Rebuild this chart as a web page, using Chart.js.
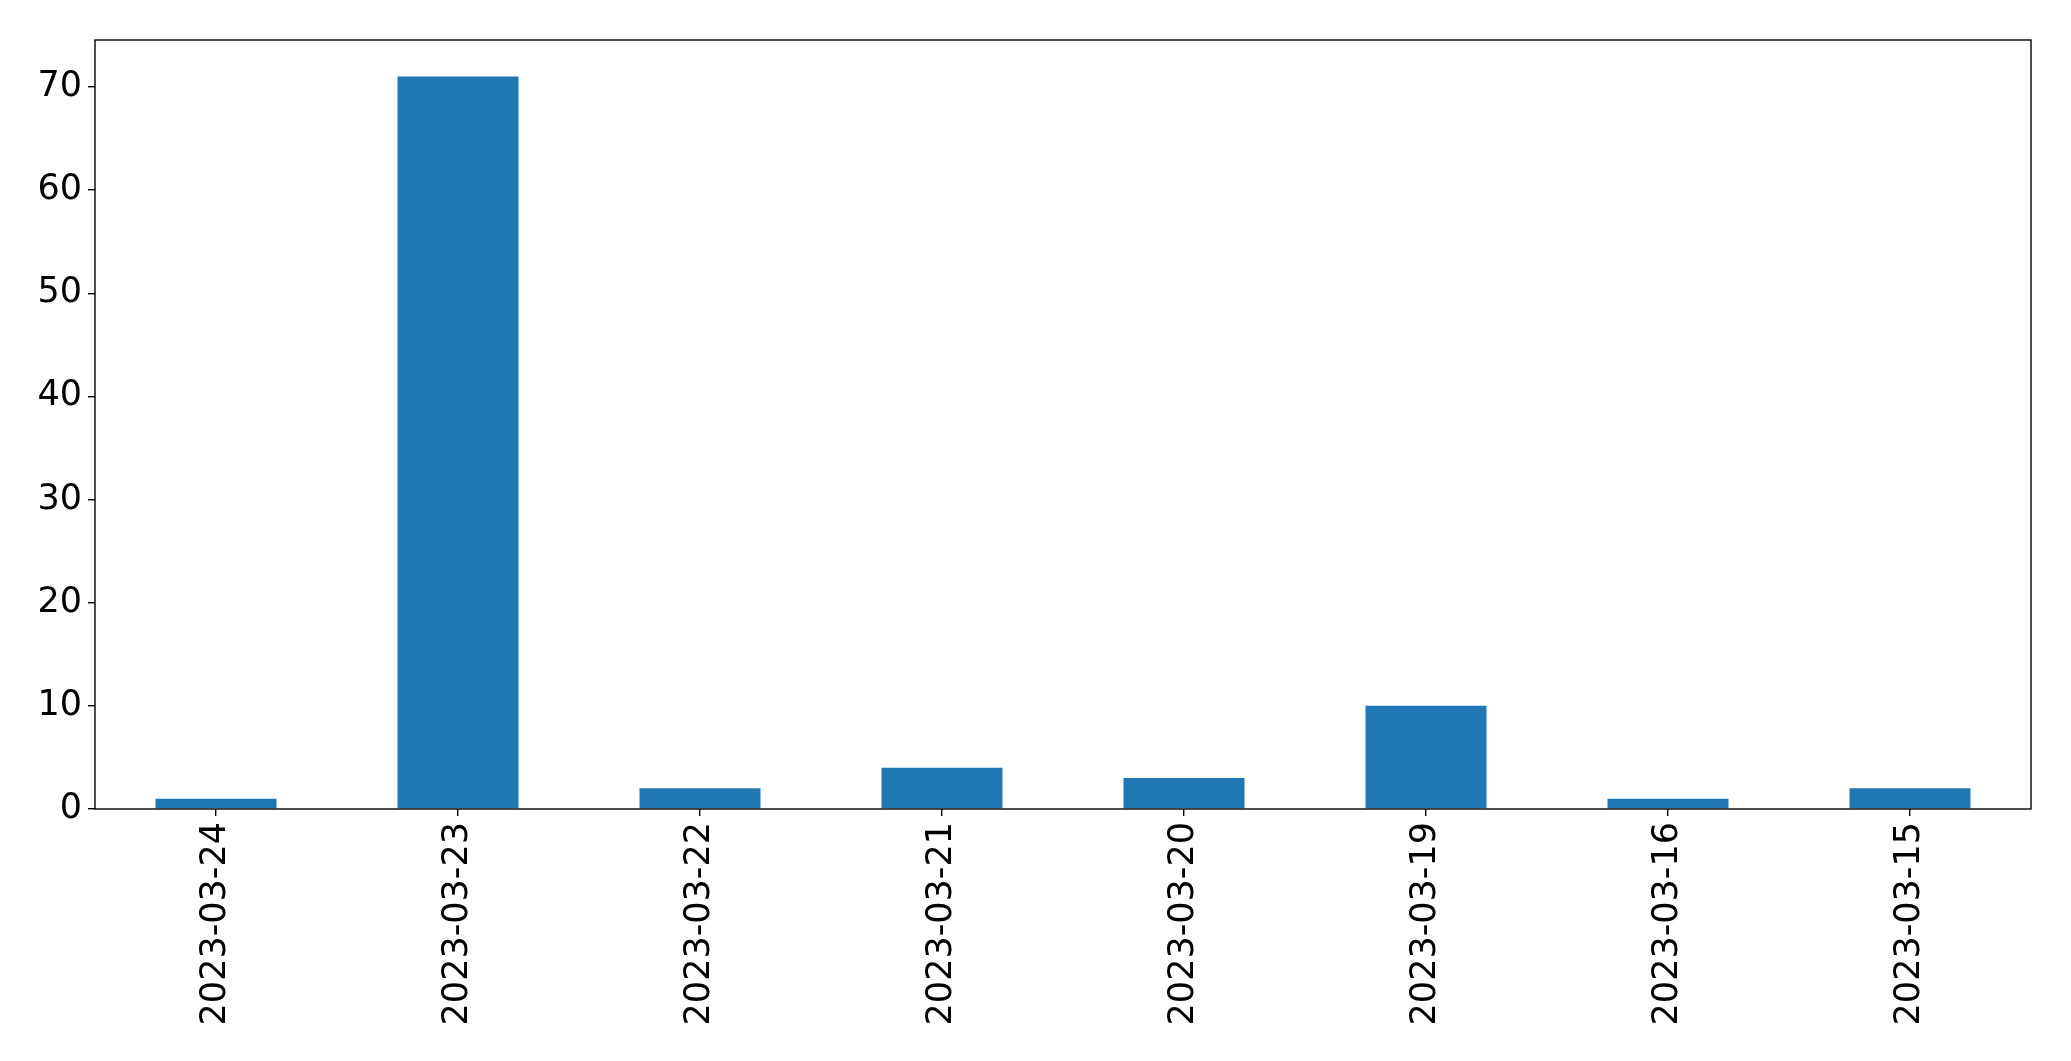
<!DOCTYPE html>
<html>
<head>
<meta charset="utf-8">
<script src="https://cdn.jsdelivr.net/npm/chart.js@4/dist/chart.umd.min.js"></script>
<style>
  html, body { margin: 0; padding: 0; background: #fff; }
  #wrap { width: 2071px; height: 1061px; }
</style>
</head>
<body>
<div id="wrap"><canvas id="barChart" width="2071" height="1061"></canvas></div>
<script>
const dates = ['2023-03-24', '2023-03-23', '2023-03-22', '2023-03-21', '2023-03-20', '2023-03-19', '2023-03-16', '2023-03-15'];
const counts = [1, 71, 2, 4, 3, 10, 1, 2];
const yMax = 74.55;
const yStep = 10;

const tickFont = { family: 'DejaVu Sans', size: 35 };

// black frame round the plot area, like matplotlib spines
const frame = {
  id: 'frame',
  afterDatasetsDraw(chart) {
    const { ctx, chartArea: a } = chart;
    ctx.save();
    ctx.strokeStyle = '#000';
    ctx.lineWidth = 1.4;
    ctx.strokeRect(a.left, a.top, a.right - a.left, a.bottom - a.top);
    ctx.restore();
  }
};

new Chart(document.getElementById('barChart').getContext('2d'), {
  type: 'bar',
  data: {
    labels: dates,
    datasets: [{
      data: counts,
      backgroundColor: '#1f77b4',
      borderWidth: 0,
      categoryPercentage: 1,
      barPercentage: 0.5
    }]
  },
  options: {
    responsive: false,
    animation: false,
    devicePixelRatio: 1,
    layout: { padding: { top: 40, right: 40, left: 0, bottom: 0 } },
    plugins: { legend: { display: false }, tooltip: { enabled: false } },
    scales: {
      x: {
        offset: true,
        grid: { display: true, offset: false, drawOnChartArea: false, drawTicks: true, tickLength: 7, color: '#000', lineWidth: 1.4 },
        border: { display: false },
        ticks: { color: '#000', font: tickFont, minRotation: 90, maxRotation: 90, padding: 6, autoSkip: false },
        afterFit: (s) => { s.height = 1061 - 809; }
      },
      y: {
        min: 0,
        max: yMax,
        grid: { display: true, drawOnChartArea: false, drawTicks: true, tickLength: 7, color: '#000', lineWidth: 1.4 },
        border: { display: false },
        ticks: { color: '#000', font: tickFont, stepSize: yStep, includeBounds: false, padding: 6 },
        afterFit: (s) => { s.width = 95; }
      }
    }
  },
  plugins: [frame]
});
</script>
</body>
</html>
